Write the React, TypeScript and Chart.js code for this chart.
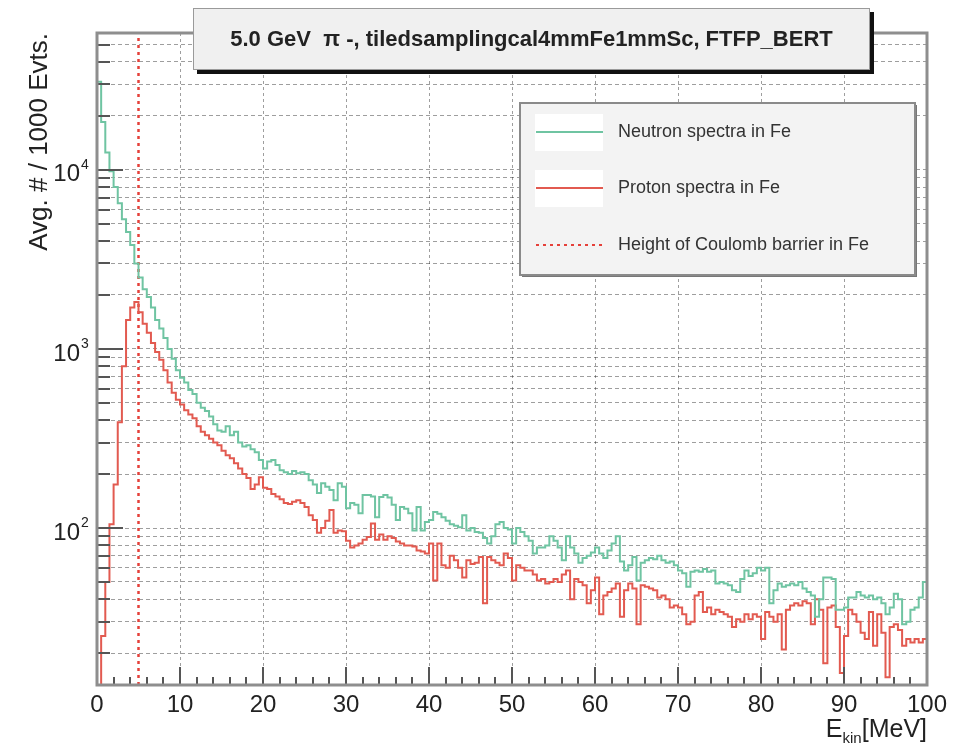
import React, { useEffect, useRef } from "react";
import { Chart, registerables } from "chart.js";

Chart.register(...registerables);

// ---------------- data ----------------
const BIN_WIDTH = 0.5; // MeV
const X_MIN = 0;
const X_MAX = 100;
const Y_MIN = 13.3;
const Y_MAX = 58000;
const X_TICKS = [0, 10, 20, 30, 40, 50, 60, 70, 80, 90, 100];
const X_MINOR_STEP = 2;
const Y_DECADES = [100, 1000, 10000];
const Y_SIGNIFICANDS = [1, 2, 3, 4, 5, 6, 7, 8, 9];
const COULOMB_BARRIER_MEV = 5.0;

const TITLE = "5.0 GeV  \u03c0 -, tiledsamplingcal4mmFe1mmSc, FTFP_BERT";
const Y_TITLE = "Avg. # / 1000 Evts.";
const X_TITLE_MAIN = "E";
const X_TITLE_SUB = "kin";
const X_TITLE_UNIT = "[MeV]";
const LEGEND_LABELS = [
  "Neutron spectra in Fe",
  "Proton spectra in Fe",
  "Height of Coulomb barrier in Fe",
];

// neutron spectrum, 0.5 MeV bins from 0 to 100 MeV
const NEUTRON = [
  31000, 18500, 12500, 9800, 8000, 6500, 5300, 4500, 3800, 3000,
  2500, 2150, 1950, 1700, 1450, 1300, 1150, 1000, 880, 760,
  690, 650, 590, 560, 500, 470, 450, 420, 380, 350,
  345, 370, 330, 345, 300, 285, 290, 275, 265, 240,
  215, 235, 240, 225, 210, 205, 200, 208, 202, 205,
  200, 185, 175, 157, 178, 170, 163, 143, 178, 170,
  129, 138, 135, 121, 153, 153, 150, 115, 149, 153,
  148, 135, 111, 131, 128, 121, 97, 131, 97, 108,
  111, 123, 120, 115, 110, 105, 103, 101, 118, 97,
  100, 95, 94, 88, 82, 90, 105, 108, 100, 98,
  82, 100, 95, 90, 85, 72, 78, 78, 80, 90,
  85, 78, 66, 90, 78, 72, 64, 68, 70, 73,
  78, 72, 68, 75, 82, 90, 65, 58, 62, 69,
  51, 64, 66, 68, 67, 70, 66, 64, 65, 62,
  58, 56, 47, 57, 58, 57, 59, 57, 58, 49,
  50, 49, 48, 45, 44, 52, 58, 54, 56, 60,
  58, 60, 38, 45, 49, 47, 48, 49, 48, 50,
  46, 44, 42, 32, 40, 53, 53, 52, 35, 35,
  36, 41, 41, 44, 42, 41, 42, 40, 41, 38,
  33, 36, 43, 40, 29, 30, 35, 36, 41, 50,
];

// proton spectrum, 0.5 MeV bins from 0 to 100 MeV
const PROTON = [
  8, 25, 50, 105, 175, 390, 800, 1450, 1700, 1830,
  1600, 1380, 1230, 1080, 960, 870, 760, 650, 570, 520,
  490, 455, 430, 410, 370, 345, 330, 315, 300, 290,
  270, 255, 245, 230, 215, 200, 190, 165, 175, 192,
  168, 165, 155, 150, 145, 138, 136, 140, 143, 138,
  131, 118, 111, 94, 100, 110, 126, 94, 97, 96,
  85, 78, 80, 82, 86, 89, 106, 86, 92, 86,
  90, 88, 84, 82, 80, 80, 79, 75, 74, 72,
  82, 51, 82, 62, 60, 70, 66, 60, 53, 66,
  63, 64, 69, 38, 69, 66, 64, 62, 72, 68,
  51, 62, 60, 58, 58, 55, 51, 52, 49, 50,
  52, 50, 55, 58, 40, 52, 50, 48, 38, 45,
  53, 33, 42, 44, 46, 49, 32, 45, 49, 46,
  29, 48, 47, 46, 45, 41, 42, 40, 36, 37,
  36, 33, 29, 30, 42, 44, 34, 36, 33, 35,
  34, 33, 32, 28, 31, 30, 33, 31, 33, 32,
  24, 34, 32, 30, 33, 21, 35, 37, 38, 37,
  39, 38, 29, 40, 35, 17.6, 36, 37, 28, 15.5,
  25, 35, 33, 30, 26, 24, 34, 22, 33, 26,
  14.7, 28, 29, 27, 22, 24, 23, 24, 23, 24,
];

// ---------------- styles ----------------
const FONT = '"Liberation Sans", Arial, Helvetica, sans-serif';
const GREEN = "#6fc4a2";
const RED = "#e25a50";
const DOT_RED = "#e5403a";
const GRID_COLOR = "rgba(0,0,0,0.38)";
const TEXT_COLOR = "#222";

const Y_GRID: number[] = [];
[10, ...Y_DECADES].forEach((d) => {
  Y_SIGNIFICANDS.forEach((s) => {
    const v = s * d;
    if (v >= Y_MIN && v <= Y_MAX) Y_GRID.push(v);
  });
});

function histPoints(values: number[]) {
  const pts: { x: number; y: number }[] = [];
  values.forEach((v, i) => {
    const x0 = X_MIN + i * BIN_WIDTH;
    pts.push({ x: x0, y: v }, { x: x0 + BIN_WIDTH, y: v });
  });
  return pts;
}

const decorPlugin = {
  id: "rootDecor",
  afterDraw(chart: any) {
    const { ctx, chartArea: a, scales } = chart;
    const xs = scales.x;
    const ys = scales.y;
    ctx.save();

    // inward ticks
    ctx.strokeStyle = "#555";
    ctx.lineWidth = 2;
    Y_GRID.forEach((v) => {
      const y = Math.round(ys.getPixelForValue(v));
      const len = Y_DECADES.includes(v) ? 26 : 13;
      ctx.beginPath();
      ctx.moveTo(a.left, y);
      ctx.lineTo(a.left + len, y);
      ctx.stroke();
    });
    for (let v = X_MIN; v <= X_MAX; v += X_MINOR_STEP) {
      const x = Math.round(xs.getPixelForValue(v));
      const len = X_TICKS.includes(v) ? 18 : 8;
      ctx.beginPath();
      ctx.moveTo(x, a.bottom);
      ctx.lineTo(x, a.bottom - len);
      ctx.stroke();
    }

    // frame
    ctx.strokeStyle = "#8e8e8e";
    ctx.lineWidth = 3;
    ctx.strokeRect(a.left, a.top, a.right - a.left, a.bottom - a.top);

    // x labels
    ctx.fillStyle = TEXT_COLOR;
    ctx.font = `24px ${FONT}`;
    ctx.textAlign = "center";
    ctx.textBaseline = "middle";
    X_TICKS.forEach((v) => {
      ctx.fillText(String(v), xs.getPixelForValue(v), a.bottom + 20);
    });

    // y labels
    Y_DECADES.forEach((v) => {
      const y = ys.getPixelForValue(v);
      ctx.font = `24px ${FONT}`;
      ctx.textAlign = "right";
      ctx.textBaseline = "middle";
      ctx.fillText("10", a.left - 17, y + 5);
      ctx.font = `14px ${FONT}`;
      ctx.textAlign = "left";
      ctx.fillText(String(Math.round(Math.log10(v))), a.left - 16, y - 5);
    });

    // x title
    ctx.textBaseline = "alphabetic";
    ctx.textAlign = "left";
    ctx.font = `25px ${FONT}`;
    const wUnit = ctx.measureText(X_TITLE_UNIT).width;
    const wMain = ctx.measureText(X_TITLE_MAIN).width;
    ctx.font = `15px ${FONT}`;
    const wSub = ctx.measureText(X_TITLE_SUB).width;
    let xt = a.right - wUnit - wSub - wMain;
    const yt = a.bottom + 52;
    ctx.font = `25px ${FONT}`;
    ctx.fillText(X_TITLE_MAIN, xt, yt);
    xt += wMain;
    ctx.font = `15px ${FONT}`;
    ctx.fillText(X_TITLE_SUB, xt, yt + 6);
    xt += wSub;
    ctx.font = `25px ${FONT}`;
    ctx.fillText(X_TITLE_UNIT, xt, yt);

    // y title
    ctx.save();
    ctx.translate(47, a.top);
    ctx.rotate(-Math.PI / 2);
    ctx.font = `26px ${FONT}`;
    ctx.textAlign = "right";
    ctx.textBaseline = "alphabetic";
    ctx.fillText(Y_TITLE, 0, 0);
    ctx.restore();

    // title box
    const tb = { x: 193, y: 8, w: 677, h: 62 };
    ctx.fillStyle = "#111";
    ctx.fillRect(tb.x + 4, tb.y + 4, tb.w, tb.h);
    ctx.fillStyle = "#f0f0f0";
    ctx.fillRect(tb.x, tb.y, tb.w, tb.h);
    ctx.strokeStyle = "#9a9a9a";
    ctx.lineWidth = 1;
    ctx.strokeRect(tb.x + 0.5, tb.y + 0.5, tb.w - 1, tb.h - 1);
    ctx.fillStyle = TEXT_COLOR;
    ctx.font = `bold 22px ${FONT}`;
    ctx.textAlign = "center";
    ctx.textBaseline = "middle";
    ctx.fillText(TITLE, tb.x + tb.w / 2, tb.y + 32);

    // legend box
    const lb = { x: 520, y: 103, w: 395, h: 172 };
    ctx.fillStyle = "#777";
    ctx.fillRect(lb.x + 2, lb.y + 2, lb.w, lb.h);
    ctx.fillStyle = "#f3f3f3";
    ctx.fillRect(lb.x, lb.y, lb.w, lb.h);
    ctx.strokeStyle = "#8a8a8a";
    ctx.lineWidth = 2;
    ctx.strokeRect(lb.x, lb.y, lb.w, lb.h);

    const rowsY = [132, 188, 245];
    const colors = [GREEN, RED, DOT_RED];
    rowsY.forEach((ry, i) => {
      if (i < 2) {
        ctx.fillStyle = "#ffffff";
        ctx.fillRect(535, ry - 18, 68, 37);
      }
      ctx.strokeStyle = colors[i];
      ctx.lineWidth = 2;
      ctx.setLineDash(i === 2 ? [3, 4] : []);
      ctx.beginPath();
      ctx.moveTo(536, ry);
      ctx.lineTo(603, ry);
      ctx.stroke();
      ctx.setLineDash([]);
      ctx.fillStyle = "#333";
      ctx.font = `18px ${FONT}`;
      ctx.textAlign = "left";
      ctx.textBaseline = "middle";
      ctx.fillText(LEGEND_LABELS[i], 618, ry);
    });

    ctx.restore();
  },
};

export default function App() {
  const canvasRef = useRef<HTMLCanvasElement | null>(null);

  useEffect(() => {
    document.body.style.margin = "0";
    const canvas = canvasRef.current;
    if (!canvas) return;
    const chart = new Chart(canvas, {
      type: "line",
      data: {
        datasets: [
          {
            label: LEGEND_LABELS[0],
            data: histPoints(NEUTRON),
            borderColor: GREEN,
            borderWidth: 2,
            pointRadius: 0,
            tension: 0,
            fill: false,
          },
          {
            label: LEGEND_LABELS[1],
            data: histPoints(PROTON),
            borderColor: RED,
            borderWidth: 2,
            pointRadius: 0,
            tension: 0,
            fill: false,
          },
          {
            label: LEGEND_LABELS[2],
            data: [
              { x: COULOMB_BARRIER_MEV, y: Y_MIN },
              { x: COULOMB_BARRIER_MEV, y: Y_MAX },
            ],
            borderColor: DOT_RED,
            borderWidth: 2.5,
            borderDash: [3, 4],
            pointRadius: 0,
            fill: false,
          },
        ],
      },
      options: {
        animation: false,
        responsive: false,
        maintainAspectRatio: false,
        parsing: true,
        layout: { padding: { left: 97, right: 33, top: 33, bottom: 63 } },
        plugins: {
          legend: { display: false },
          tooltip: { enabled: false },
          title: { display: false },
        },
        scales: {
          x: {
            type: "linear",
            min: X_MIN,
            max: X_MAX,
            afterBuildTicks: (scale: any) => {
              scale.ticks = X_TICKS.map((v) => ({ value: v }));
            },
            ticks: { display: false },
            grid: { drawTicks: false, color: GRID_COLOR, lineWidth: 1 },
            border: { display: false, dash: [3, 3] },
          },
          y: {
            type: "logarithmic",
            min: Y_MIN,
            max: Y_MAX,
            afterBuildTicks: (scale: any) => {
              scale.ticks = Y_GRID.map((v) => ({ value: v }));
            },
            ticks: { display: false },
            grid: { drawTicks: false, color: GRID_COLOR, lineWidth: 1 },
            border: { display: false, dash: [4, 3] },
          },
        },
      },
      plugins: [decorPlugin],
    } as any);
    return () => chart.destroy();
  }, []);

  return (
    <div style={{ width: 960, height: 748, background: "#fff" }}>
      <canvas ref={canvasRef} width={960} height={748} style={{ display: "block" }} />
    </div>
  );
}
